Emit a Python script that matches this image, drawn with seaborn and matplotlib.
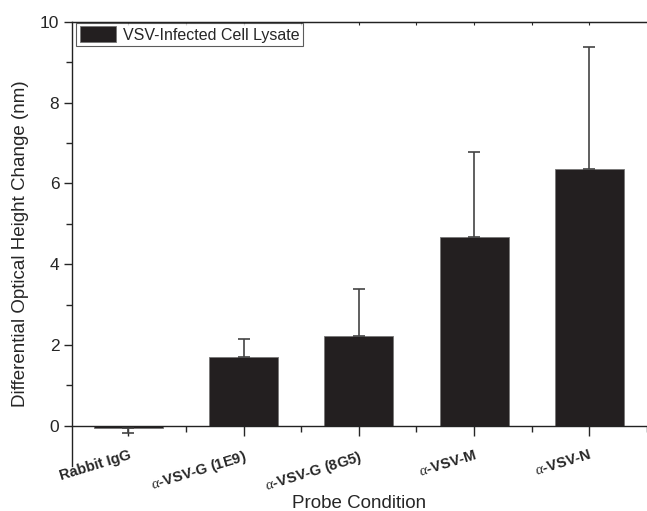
"""
Bar chart of differential optical height change per probe condition.
"""
import matplotlib

matplotlib.use("Agg")
import matplotlib.pyplot as plt
import pandas as pd
import seaborn as sns

# data
conditions = [
    "Rabbit IgG",
    r"$\alpha$-VSV-G (1E9)",
    r"$\alpha$-VSV-G (8G5)",
    r"$\alpha$-VSV-M",
    r"$\alpha$-VSV-N",
]
height_change = [-0.05, 1.69, 2.21, 4.67, 6.35]
err_low = [0.12, 0.0, 0.0, 0.0, 0.0]
err_high = [0.0, 0.45, 1.17, 2.10, 3.04]
series_name = "VSV-Infected Cell Lysate"

sns.set_style("ticks")
plt.rcParams["font.family"] = ["Liberation Sans", "DejaVu Sans"]
plt.rcParams["mathtext.fontset"] = "custom"
plt.rcParams["mathtext.rm"] = "Liberation Serif"
plt.rcParams["mathtext.it"] = "Liberation Serif:italic"

df = pd.DataFrame({"condition": conditions, "change": height_change})

fig = plt.figure(figsize=(6.47, 5.11), dpi=100)
ax = fig.add_axes([0.111, 0.088, 0.889, 0.869])

sns.barplot(
    data=df,
    x="condition",
    y="change",
    color="#231f20",
    saturation=1,
    width=0.6,
    errorbar=None,
    edgecolor="#777777",
    linewidth=0.6,
    label=series_name,
    ax=ax,
)
ax.errorbar(
    range(len(conditions)),
    height_change,
    yerr=[err_low, err_high],
    fmt="none",
    ecolor="#444444",
    elinewidth=1.2,
    capsize=4.5,
    capthick=1.2,
)

ax.set_ylim(-1, 10)
ax.set_xlim(-0.49, 4.48)
ax.set_yticks([0, 2, 4, 6, 8, 10])
ax.set_yticks([1, 3, 5, 7, 9], minor=True)
ax.set_xticks([0.5, 1.5, 2.5, 3.5, 4.5], minor=True)

ax.spines["right"].set_visible(False)
ax.spines["bottom"].set_position(("data", 0))
for side in ["left", "bottom", "top"]:
    ax.spines[side].set_linewidth(1.0)
    ax.spines[side].set_color("#222222")

ax.tick_params(axis="y", which="major", direction="out", length=6, width=1,
               labelsize=12.5, pad=3)
ax.tick_params(axis="y", which="minor", direction="out", length=4, width=1)
ax.tick_params(axis="x", which="major", direction="out", length=7, width=1,
               pad=9)
ax.tick_params(axis="x", which="minor", direction="out", length=4, width=1)

ax.set_xticks(range(len(conditions)))
ax.set_xticklabels(conditions, rotation=17, ha="right",
                   rotation_mode="anchor", fontsize=10.5, fontweight="bold")

# small inward ticks along the top edge
top = ax.secondary_xaxis("top")
top.set_xticks([0, 0.5, 1, 1.5, 2, 2.5, 3, 3.5, 4])
top.tick_params(direction="in", length=2.5, width=0.8, labeltop=False)

ax.set_xlabel("Probe Condition", fontsize=13.5)
ax.xaxis.set_label_coords(0.5, -0.065)
ax.set_ylabel("Differential Optical Height Change (nm)", fontsize=13.5,
              labelpad=8)

leg = ax.legend(
    loc="upper left",
    bbox_to_anchor=(0.008, 0.997),
    borderaxespad=0,
    fontsize=11.5,
    frameon=True,
    fancybox=False,
    handlelength=2.3,
    handleheight=1.1,
    handletextpad=0.4,
    borderpad=0.2,
)
leg.get_frame().set_edgecolor("#333333")
leg.get_frame().set_linewidth(0.8)

fig.savefig("out.png", dpi=100)
plt.close(fig)
